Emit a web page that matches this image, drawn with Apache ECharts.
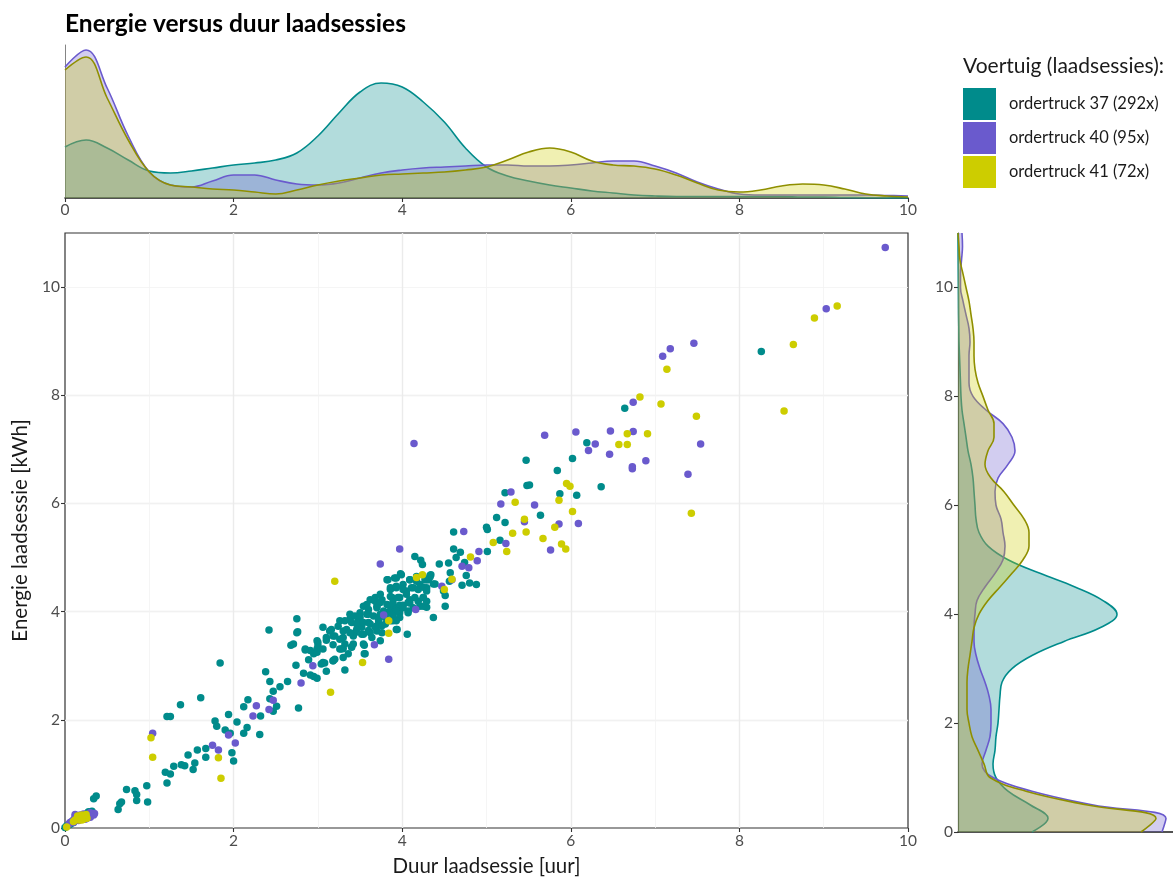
<!DOCTYPE html>
<html><head><meta charset="utf-8">
<script src="https://cdn.jsdelivr.net/npm/echarts@6/dist/echarts.min.js"></script>
<style>html,body{margin:0;padding:0;background:#fff}#chart{width:1173px;height:882px}</style>
</head><body><div id="chart"></div>
<script>
// ---------- DATA ----------
const seriesNames = ['ordertruck 37 (292x)', 'ordertruck 40 (95x)', 'ordertruck 41 (72x)'];
const xTicks = [0, 2, 4, 6, 8, 10];
const yTicks = [0, 2, 4, 6, 8, 10];

// scatter points [duur uur, energie kWh]
const truck37 = [
 [8.26,8.81],[6.64,7.76],[6.19,7.12],[5.47,6.80],[6.02,6.83],[5.84,6.61],[5.48,6.33],[5.51,6.34],[6.36,6.31],[5.22,6.20],[5.87,6.18],[6.07,6.15],[5.64,5.78],[5.12,5.74],[5.22,5.65],[5.00,5.56],
 [5.01,5.52],[4.61,5.47],[5.16,5.32],[4.61,5.16],[4.69,5.10],[5.01,5.11],[4.15,5.02],[4.64,5.00],[4.22,4.95],[4.24,4.87],[4.44,4.88],[4.55,4.90],[4.74,4.91],[4.57,4.72],[4.34,4.68],[4.76,4.67],[4.31,4.59],[4.56,4.56],[4.39,4.51],[4.71,4.49],[4.80,4.53],[4.88,4.50],[4.49,4.38],[4.51,4.30],[4.51,4.10],[4.37,3.89],[4.06,3.58],
 [3.82,4.59],[3.91,4.62],[3.98,4.70],[4.09,4.59],[4.17,4.65],[4.29,4.59],[4.33,4.64],
 [3.86,4.41],[3.93,4.44],[4.01,4.50],[4.05,4.38],[4.13,4.44],[4.21,4.50],[4.29,4.44],
 [3.68,4.26],[3.76,4.22],[3.88,4.26],[3.97,4.26],[4.09,4.22],[4.19,4.19],[4.25,4.26],
 [3.58,4.13],[3.70,4.10],[3.86,4.10],[3.93,4.07],[4.01,4.12],[4.09,4.16],[4.21,4.10],[4.29,4.08],
 [3.38,3.95],[3.50,3.98],[3.60,3.95],[3.74,3.95],[3.86,4.01],[3.89,3.95],[3.97,3.98],[4.07,4.01],
 [3.26,3.83],[3.38,3.86],[3.48,3.83],[3.60,3.80],[3.72,3.83],[3.80,3.77],[3.89,3.83],[3.97,3.89],
 [2.75,3.87],[3.06,3.71],[3.14,3.64],[3.24,3.73],[3.34,3.67],[3.44,3.61],[3.52,3.71],[3.60,3.65],[3.70,3.74],[3.76,3.61],[3.93,3.67],
 [2.76,3.63],[2.42,3.66],[3.10,3.52],[3.20,3.55],[3.30,3.52],[3.42,3.55],[3.54,3.58],
 [3.00,3.43],[3.00,3.37],[3.18,3.39],[3.40,3.35],[3.55,3.38],[2.68,3.38],
 [2.85,3.29],[2.95,3.22],[2.99,3.31],[3.26,3.31],[3.30,3.32],[3.55,3.22],
 [2.89,3.11],[3.04,3.03],[3.08,3.05],[3.18,3.09],[3.20,3.12],
 [2.74,3.01],[3.32,2.92],[3.10,2.90],[2.38,2.89],[2.83,2.86],[2.91,2.83],[2.95,2.80],[2.99,2.77],
 [1.84,3.05],[2.43,2.71],[2.64,2.71],[2.55,2.61],[2.47,2.53],[2.43,2.39],[2.51,2.25],[2.47,2.16],
 [2.77,2.22],[2.17,2.37],[2.12,2.24],[1.61,2.41],[1.37,2.28],
 [1.94,2.10],[1.78,1.98],[1.80,1.88],[2.04,1.96],[2.32,2.07],[1.21,2.06],[1.25,2.06],
 [1.90,1.81],[1.96,1.75],[2.12,1.75],[2.16,1.86],[2.31,1.73],
 [1.46,1.35],[1.57,1.44],[1.67,1.47],[1.67,1.31],[1.29,1.14],[1.38,1.17],[1.42,1.15],[1.54,1.20],[1.52,1.08],
 [1.98,1.39],[2.00,1.24],[1.19,1.03],[1.25,1.00],[1.21,0.83],[0.97,0.78],[0.98,0.48],
 [0.73,0.71],[0.83,0.69],[0.85,0.62],[0.85,0.51],[0.63,0.34],[0.65,0.45],[0.67,0.48],
 [0.34,0.54],[0.37,0.59],[0.32,0.31],[0.18,0.19],[0.10,0.13],[0.02,0.04],[0.00,0.01],
 [4.33,4.67],[4.27,4.59],[4.37,4.51],[4.17,4.56],[4.09,4.59],[3.99,4.68],[3.93,4.62],[3.83,4.59],
 [3.86,4.44],[3.93,4.47],[4.01,4.41],[4.11,4.44],[4.19,4.41],[4.25,4.45],[4.29,4.38],
 [3.74,4.32],[3.86,4.28],[3.95,4.26],[4.05,4.32],[4.15,4.26],[4.25,4.26],
 [3.62,4.22],[3.68,4.19],[3.74,4.17],[3.82,4.13],[3.89,4.17],[3.97,4.12],[4.07,4.17],[4.13,4.07],[4.25,4.10],[4.29,4.19],
 [3.54,4.10],[3.60,4.04],[3.70,4.07],[3.78,4.01],[3.86,3.98],[3.93,4.01],[4.01,4.07],[4.07,3.98],
 [3.44,3.92],[3.50,3.89],[3.58,3.95],[3.66,3.92],[3.72,3.86],[3.80,3.89],[3.89,3.92],[3.93,3.83],
 [3.32,3.83],[3.40,3.80],[3.46,3.77],[3.54,3.80],[3.62,3.77],[3.68,3.71],[3.76,3.74],[3.86,3.83],[3.94,3.67],
 [3.16,3.67],[3.30,3.64],[3.38,3.61],[3.46,3.67],[3.52,3.58],[3.62,3.61],[3.70,3.64],
 [2.99,3.46],[3.10,3.47],[3.18,3.55],[3.26,3.49],[3.32,3.40],[3.42,3.40],[3.54,3.40],[3.64,3.52],[3.74,3.46],
 [2.91,3.28],[2.99,3.25],[3.06,3.31],[3.28,3.31],[3.40,3.34],[3.56,3.22],[2.85,3.31],[2.75,3.61],[2.71,3.40],
 [3.06,3.06],[3.18,3.09],[3.30,3.15],[3.36,3.22],
 [0.27,0.28],[0.22,0.22],[0.15,0.15],[0.07,0.08],[0.20,0.20],[0.25,0.22],[0.12,0.14],[0.30,0.25],[0.05,0.06],[0.17,0.20],
 [0.22,0.18],[0.28,0.30],[0.10,0.10],[0.24,0.25],[0.19,0.16],[0.14,0.18],[0.31,0.27],[0.08,0.11],[0.26,0.24],[0.21,0.23]
];
const truck40 = [
 [9.73,10.73],[9.03,9.60],[7.46,8.96],[7.18,8.86],[7.09,8.72],[6.74,7.87],[5.69,7.26],[6.06,7.32],[6.47,7.34],[6.74,7.33],[6.29,7.10],[6.21,6.98],[6.46,6.91],[7.54,7.10],[6.89,6.79],[6.73,6.68],[6.73,6.64],[7.39,6.54],[4.14,7.11],[5.29,6.21],[5.17,5.99],[5.57,5.97],[5.45,5.66],[5.86,5.62],[6.09,5.63],
 [4.73,5.48],[3.97,5.16],[4.91,5.11],[4.89,4.94],[4.71,4.84],[4.79,4.81],[4.47,4.47],[4.59,4.59],[4.16,4.04],[5.76,5.14],[5.23,5.26],
 [3.74,4.88],[3.78,3.94],[3.67,3.39],[3.84,3.12],[2.94,3.00],[2.80,2.68],[2.27,2.26],[2.47,2.36],[2.42,2.19],[2.23,2.07],[1.94,1.72],[2.02,1.57],[1.75,1.53],[1.82,1.44],[1.04,1.75],
 [0.12,0.25],[0.24,0.16],[0.30,0.22],[0.34,0.24],[0.05,0.08],[0.08,0.12],[0.10,0.15],[0.15,0.18],[0.18,0.20],[0.20,0.22],[0.22,0.20],[0.25,0.24],[0.28,0.26],[0.30,0.28],
 [0.12,0.18],[0.16,0.14],[0.20,0.16],[0.24,0.20],[0.26,0.18],[0.32,0.26],[0.14,0.20],[0.18,0.24],[0.22,0.26],[0.06,0.10],[0.10,0.10],[0.28,0.22],[0.20,0.20],[0.15,0.16],[0.25,0.20],[0.30,0.20],[0.35,0.27],[0.12,0.22]
];
const truck41 = [
 [9.16,9.65],[8.89,9.43],[8.64,8.94],[7.14,8.48],[6.82,7.97],[7.07,7.84],[7.49,7.61],[8.53,7.71],[6.67,7.29],[6.91,7.29],[6.57,7.09],[6.67,7.09],[5.95,6.37],[5.99,6.32],[5.34,6.02],[5.86,6.06],[6.02,5.85],[5.45,5.71],[7.43,5.82],[5.81,5.56],
 [5.08,5.28],[5.24,5.11],[4.81,5.01],[4.17,4.63],[4.24,4.68],[4.59,4.60],[4.50,4.41],[5.47,5.47],[5.31,5.45],[5.67,5.35],[5.89,5.25],[5.94,5.16],
 [3.20,4.56],[3.84,3.83],[3.84,3.60],[3.53,3.06],[3.15,2.51],[1.02,1.67],[1.04,1.31],[1.82,1.30],[1.85,0.92],
 [0.18,0.17],[0.02,0.02],[0.15,0.18],[0.20,0.20],[0.22,0.16],[0.18,0.22],[0.12,0.15],[0.25,0.20],[0.20,0.15],[0.16,0.20],[0.24,0.22],[0.14,0.16],
 [0.22,0.20],[0.18,0.18],[0.20,0.24],[0.26,0.18],[0.10,0.12],[0.17,0.15],[0.23,0.19],[0.19,0.21],[0.21,0.17],[0.15,0.22],[0.25,0.25],[0.16,0.16],[0.20,0.18]
];

// marginal densities (arbitrary density units)
const durationGrid = [0,0.25,0.5,0.75,1,1.25,1.5,1.75,2,2.25,2.5,2.75,3,3.25,3.5,3.75,4,4.25,4.5,4.75,5,5.25,5.5,5.75,6,6.25,6.5,6.75,7,7.25,7.5,7.75,8,8.25,8.5,8.75,9,9.25,9.5,9.75,10];
const durDens37 = [51,58,50,38,27,25,27,30,33,35,38,45,62,85,106,115,111,96,76,50,31,22,17,13,10,7,5,3,2,1.5,1.5,1.5,1.5,1.5,1.5,1,1,0.5,0.3,0.1,0];
const durDens40 = [131,148,110,62,26,13,11,17,23,23,18,14,13,15,20,25,28,30,31,32,33,33,32,32,33,35,37,37,32,25,16,9,4,3,3,3,3,3,3,2.5,2];
const durDens41 = [128,141,100,58,26,13,11,9,8,6,4,8,13,17,20,23,24,25,26,28,31,38,46,50,46,37,33,32,29,23,15,8,6,8,12,14,13,9,4,2,1];

const energyGrid = [0,0.25,0.5,0.75,1,1.25,1.5,1.75,2,2.25,2.5,2.75,3,3.25,3.5,3.75,4,4.25,4.5,4.75,5,5.25,5.5,5.75,6,6.25,6.5,6.75,7,7.25,7.5,7.75,8,8.25,8.5,8.75,9,9.25,9.5,9.75,10,10.25,10.5,10.75,11];
const energyTickLabels = ['0', '2', '4', '6', '8', '10'];
const engDens37 = [74,90,72,50,38,35,37,38,40,41,42,44,54,75,106,142,159,145,117,82,50,30,21,18,17,16,15,13,10,8,6,4,3,2.5,2,1.5,1,0.8,0.6,0.5,0.4,0.3,0.2,0.1,0];
const engDens40 = [204,208,134,74,35,24,28,32,33,33,31,27,22,18,16,16,17,19,27,37,45,47,45,43,38,37,40,50,57,54,45,28,15,11,11,11,12,11,8,5,2.5,2.5,3.5,4.5,4];
const engDens41 = [183,198,128,68,32,26,20,14,11,9,9,9,10,12,14,16,21,30,42,54,65,71,71,66,56,46,33,27,30,36,36,30,25,20,17,16,16,15,13,11,8,5,2,1,0];

// ---------- STYLE ----------
const pointColors = ['#008B8B', '#6A5ACD', '#CDCD00'];
const lineColors = ['#008B8B', '#6A5ACD', '#8F8F00'];
const FONT = 'Lato';
const labelGray = '#4D4D4D';
const tickFont = 15.5;

const chart = echarts.init(document.getElementById('chart'), null, {renderer: 'canvas'});

const scatterData = [truck37, truck40, truck41];
const durDens = [durDens37, durDens40, durDens41];
const engDens = [engDens37, engDens40, engDens41];
const energyCats = energyGrid.map(String);
const showEnergyTick = (idx, val) => energyTickLabels.indexOf(String(val)) >= 0;

const series = [];
scatterData.forEach((pts, i) => {
  series.push({
    name: seriesNames[i], type: 'scatter', xAxisIndex: 0, yAxisIndex: 0,
    data: pts, symbol: 'circle', symbolSize: 7.5,
    itemStyle: {color: pointColors[i], opacity: 1}, emphasis: {disabled: true}, z: 3
  });
});
durDens.forEach((d, i) => {
  series.push({
    name: seriesNames[i], type: 'line', xAxisIndex: 1, yAxisIndex: 2,
    data: durationGrid.map((x, k) => [x, d[k]]),
    smooth: 0.4, showSymbol: false, symbol: 'none',
    lineStyle: {color: lineColors[i], width: 1.6},
    areaStyle: {color: pointColors[i], opacity: 0.3},
    emphasis: {disabled: true}, z: 2 + i
  });
});
engDens.forEach((d, i) => {
  series.push({
    name: seriesNames[i], type: 'line', xAxisIndex: 2, yAxisIndex: 3,
    data: d,
    smooth: 0.4, showSymbol: false, symbol: 'none',
    lineStyle: {color: lineColors[i], width: 1.6},
    areaStyle: {color: pointColors[i], opacity: 0.3},
    emphasis: {disabled: true}, z: 2 + i
  });
});

const option = {
  backgroundColor: '#fff',
  animation: false,
  textStyle: {fontFamily: FONT},
  title: [
    {text: 'Energie versus duur laadsessies', left: 65, top: 12, padding: 0,
     textStyle: {fontFamily: FONT, fontWeight: 'bold', fontSize: 24.5, color: '#000'}},
    {text: 'Voertuig (laadsessies):', left: 963, top: 56, padding: 0,
     textStyle: {fontFamily: FONT, fontWeight: 'normal', fontSize: 21, color: '#1a1a1a'}}
  ],
  legend: {
    data: seriesNames, orient: 'vertical', left: 963, top: 88, padding: 0,
    itemWidth: 33, itemHeight: 32, itemGap: 2, icon: 'rect', selectedMode: false,
    textStyle: {fontFamily: FONT, fontSize: 16.5, color: '#1a1a1a', padding: [0, 0, 0, 8]}
  },
  grid: [
    {left: 65, top: 233, width: 843, height: 599, show: true, borderColor: '#333', borderWidth: 1.2, backgroundColor: 'transparent'},
    {left: 65, top: 45, width: 843, height: 153},
    {left: 958, top: 233, width: 215, height: 599}
  ],
  xAxis: [
    {gridIndex: 0, type: 'value', min: 0, max: 10, interval: 2,
     name: 'Duur laadsessie [uur]', nameLocation: 'middle', nameGap: 28,
     nameTextStyle: {fontFamily: FONT, fontSize: 20.5, color: '#1a1a1a'},
     axisLine: {show: false}, axisTick: {show: true, length: 4, lineStyle: {color: '#333', width: 1.1}},
     axisLabel: {color: labelGray, fontSize: tickFont, margin: 5, customValues: xTicks},
     splitLine: {show: true, showMinLine: false, showMaxLine: false, lineStyle: {color: '#EBEBEB', width: 1.4}},
     minorTick: {show: false, splitNumber: 2},
     minorSplitLine: {show: true, lineStyle: {color: '#F2F2F2', width: 0.8}}},
    {gridIndex: 1, type: 'value', min: 0, max: 10, interval: 2,
     axisLine: {show: true, onZero: false, lineStyle: {color: '#1a1a1a', width: 1.5}},
     axisTick: {show: true, length: 4, lineStyle: {color: '#333', width: 1.1}},
     axisLabel: {color: labelGray, fontSize: tickFont, margin: 4, customValues: xTicks},
     splitLine: {show: false}},
    {gridIndex: 2, type: 'value', min: 0, max: 215,
     axisLine: {show: true, onZero: false, lineStyle: {color: '#1a1a1a', width: 1.5}},
     axisTick: {show: false}, axisLabel: {show: false}, splitLine: {show: false}}
  ],
  yAxis: [
    {gridIndex: 0, type: 'value', min: 0, max: 11, interval: 2,
     name: 'Energie laadsessie [kWh]', nameLocation: 'middle', nameGap: 33, nameRotate: 90,
     nameTextStyle: {fontFamily: FONT, fontSize: 20.5, color: '#1a1a1a'},
     axisLine: {show: false},
     axisTick: {show: true, length: 4, lineStyle: {color: '#333', width: 1.1}, customValues: yTicks},
     axisLabel: {color: labelGray, fontSize: tickFont, margin: 5, customValues: yTicks},
     splitLine: {show: true, showMinLine: false, showMaxLine: false, lineStyle: {color: '#EBEBEB', width: 1.4}}},
    {gridIndex: 0, type: 'value', min: 0, max: 11, interval: 1, position: 'right',
     axisLine: {show: false}, axisTick: {show: false}, axisLabel: {show: false},
     splitLine: {show: true, showMinLine: false, showMaxLine: false,
                 lineStyle: {color: ['rgba(0,0,0,0)', '#F2F2F2'], width: 0.8}}},
    {gridIndex: 1, type: 'value', min: 0, max: 153,
     axisLine: {show: true, onZero: false, lineStyle: {color: '#666', width: 0.8}},
     axisTick: {show: false}, axisLabel: {show: false}, splitLine: {show: false}},
    {gridIndex: 2, type: 'category', data: energyCats, boundaryGap: false,
     axisLine: {show: true, onZero: false, lineStyle: {color: '#333', width: 1.2}},
     axisTick: {show: true, length: 4, interval: showEnergyTick, lineStyle: {color: '#333', width: 1.1}},
     axisLabel: {color: labelGray, fontSize: tickFont, margin: 5, interval: showEnergyTick},
     splitLine: {show: false}}
  ],
  series: series
};
chart.setOption(option);
</script>
</body></html>
